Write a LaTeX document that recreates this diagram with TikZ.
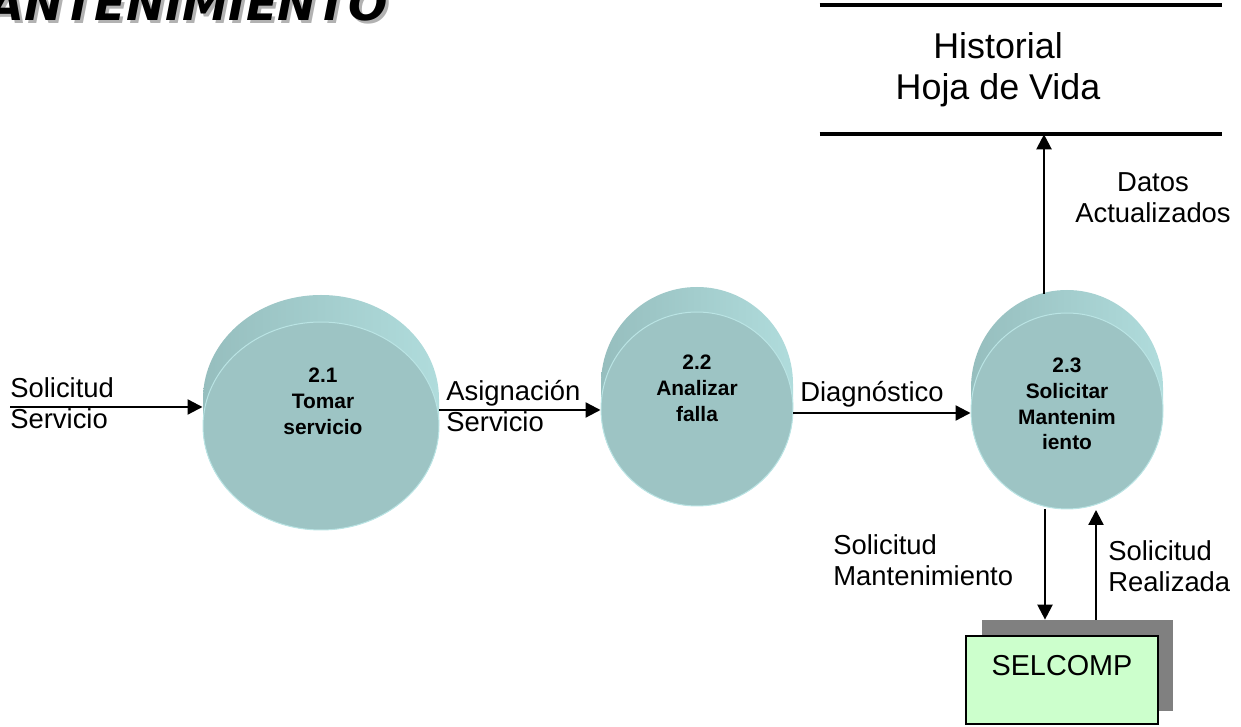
\documentclass[tikz,border=0pt]{standalone}
\usepackage{fontspec}
\setmainfont{Liberation Sans}
\newfontfamily\titlefont{DejaVu Sans}
\usetikzlibrary{shapes.geometric, positioning, arrows.meta}

\definecolor{cara}{RGB}{157,196,196}
\definecolor{bordeclaro}{RGB}{186,228,228}
\definecolor{bandaizq}{RGB}{150,190,190}
\definecolor{bandamed}{RGB}{104,144,144}
\definecolor{bandader}{RGB}{176,220,220}
\definecolor{selverde}{RGB}{204,255,204}

\tikzset{
  flujo/.style={-{Triangle[length=0.3cm,width=0.3cm]}, line width=0.045cm},
  etiqueta/.style={font=\fontsize{15.6}{18.1}\selectfont, align=left, inner sep=0pt},
  cara/.style={ellipse, fill=cara, draw=bordeclaro, line width=0.02cm, inner sep=0pt},
  proc/.style={font=\bfseries\fontsize{11.9}{14.7}\selectfont, align=center, inner sep=0pt},
}

% cuerpo del cilindro: cx, cy, rx, ry, dy
\newcommand{\cilindro}[5]{%
  \shade[left color=bandaizq, middle color=bandamed, right color=bandader]
    (#1-#3,#2) -- (#1-#3,#2+#5) arc[start angle=180, end angle=0, x radius=#3, y radius=#4]
    -- (#1+#3,#2) arc[start angle=0, end angle=-180, x radius=#3, y radius=#4] -- cycle;}

\begin{document}
\begin{tikzpicture}[x=0.02cm, y=0.02cm]
  \useasboundingbox (0,0) rectangle (1241,727);

  % titulo
  \node[font=\titlefont\bfseries\itshape\fontsize{26.4}{30}\selectfont, text=gray!60, anchor=base east, inner sep=0pt] (titulosombra) at (391,703) {ANTENIMIENTO};
  \node[font=\titlefont\bfseries\itshape\fontsize{26.4}{30}\selectfont, anchor=base east, inner sep=0pt] (titulo) at (388,706) {ANTENIMIENTO};

  % procesos
  \cilindro{321}{301}{118}{104}{27}
  \node[cara, minimum width=4.72cm, minimum height=4.16cm] (p1) at (321,301) {};
  \node[proc] (p1t) at (323,326) {2.1\\Tomar\\servicio};

  \cilindro{697}{318}{96}{97}{25}
  \node[cara, minimum width=3.84cm, minimum height=3.88cm] (p2) at (697,318) {};
  \node[proc] (p2t) at (697,339) {2.2\\Analizar\\falla};

  \cilindro{1067}{316}{96}{98}{23}
  \node[cara, minimum width=3.84cm, minimum height=3.92cm] (p3) at (1067,316) {};
  \node[proc] (p3t) at (1067,323) {2.3\\Solicitar\\Mantenim\\iento};

  % almacen
  \node[minimum width=8.04cm, minimum height=2.58cm, inner sep=0pt] (hv) at (1021,657.5) {};
  \draw[line width=0.08cm] (hv.north west) -- (hv.north east);
  \draw[line width=0.08cm] (hv.south west) -- (hv.south east);
  \node[font=\fontsize{20.4}{23.8}\selectfont, align=center, inner sep=0pt, anchor=base] (hvt) at (998,627) {Historial\\Hoja de Vida};

  % entidad externa
  \node[fill=gray, minimum width=3.82cm, minimum height=1.82cm, inner sep=0pt] (selsh) at (1077.5,61.5) {};
  \node[fill=selverde, draw=black, line width=0.05cm, minimum width=3.84cm, minimum height=1.76cm, inner sep=0pt] (sel) at (1062,47) {};
  \node[font=\fontsize{16.4}{19}\selectfont, inner sep=0pt] (selt) at (1062,61) {SELCOMP};

  % flujos
  \coordinate (ent) at (10,320);
  \draw[flujo] (ent) -- (ent -| p1.west);
  \draw[flujo] (p1.east |- 0,317) -- (p2.west |- 0,317);
  \draw[flujo] (p2.east |- 0,314) -- (p3.west |- 0,314);
  \coordinate (p3arriba) at (1044,433);
  \draw[flujo] (p3arriba) -- (p3arriba |- hv.south);
  \draw[flujo] (1045,0 |- p3.south) -- (1045,0 |- selsh.north);
  \draw[flujo] (1096,0 |- selsh.north) -- (1096,217);

  \node[etiqueta, anchor=base west] (l1) at (10,298) {Solicitud\\Servicio};
  \node[etiqueta, anchor=base west] (l2) at (446,295) {Asignación\\Servicio};
  \node[etiqueta, anchor=base west] (l3) at (800,325) {Diagnóstico};
  \node[etiqueta, align=center, anchor=base] (l4) at (1153,504) {Datos\\Actualizados};
  \node[etiqueta, anchor=base west] (l5) at (833,141) {Solicitud\\Mantenimiento};
  \node[etiqueta, anchor=base west] (l6) at (1108,135) {Solicitud\\Realizada};
\end{tikzpicture}
\end{document}
